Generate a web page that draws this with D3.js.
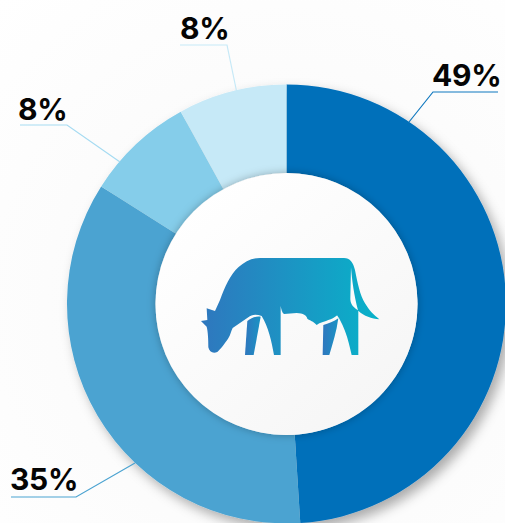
<!DOCTYPE html>
<html><head><meta charset="utf-8">
<script src="https://cdn.jsdelivr.net/npm/d3@7"></script>
<style>html,body{margin:0;padding:0;background:#fff}svg{display:block}</style>
</head><body><svg id="c" width="505" height="523"></svg>
<script>
const labels = ["49%", "35%", "8%", "8%"];
const values = [49, 35, 8, 8];
const colors = ["#0070ba", "#4ba3d1", "#85cdea", "#c6e9f7"];
const lineColors = ["#0f78bf", "#4ba3d1", "#a5dbf2", "#c6e9f7"];

const W = 505, H = 523, cx = 286.5, cy = 304, R = 219.5, r = 131;
const svg = d3.select("#c");
const defs = svg.append("defs");
const bg = defs.append("radialGradient").attr("id","bg").attr("gradientUnits","userSpaceOnUse")
  .attr("cx",cx).attr("cy",cy).attr("r",420);
bg.append("stop").attr("offset","0").attr("stop-color","#f8f8f8");
bg.append("stop").attr("offset","1").attr("stop-color","#ffffff");
const sh = defs.append("filter").attr("id","ringShadow").attr("x","-20%").attr("y","-20%").attr("width","140%").attr("height","140%");
sh.append("feDropShadow").attr("dx",5).attr("dy",6).attr("stdDeviation",6).attr("flood-color","#000").attr("flood-opacity",0.32);
const sh2 = defs.append("filter").attr("id","holeShadow").attr("x","-20%").attr("y","-20%").attr("width","140%").attr("height","140%");
sh2.append("feDropShadow").attr("dx",0).attr("dy",0).attr("stdDeviation",4).attr("flood-color","#000").attr("flood-opacity",0.28);
const hg = defs.append("linearGradient").attr("id","hole").attr("x1","0.15").attr("y1","0.1").attr("x2","0.85").attr("y2","0.9");
hg.append("stop").attr("offset","0").attr("stop-color","#ffffff");
hg.append("stop").attr("offset","1").attr("stop-color","#f6f6f6");
const g1 = defs.append("linearGradient").attr("id","cow");
g1.append("stop").attr("offset","0").attr("stop-color","#2f77be");
g1.append("stop").attr("offset","1").attr("stop-color","#08b2c9");
const g2 = defs.append("linearGradient").attr("id","leg");
g2.append("stop").attr("offset","0").attr("stop-color","#2f77be");
g2.append("stop").attr("offset","1").attr("stop-color","#1a93c4");

svg.append("rect").attr("width",W).attr("height",H).attr("fill","url(#bg)");

const pie = d3.pie().sort(null).value(d => d)(values);
const arc = d3.arc().innerRadius(r).outerRadius(R);
const chart = svg.append("g").attr("transform",`translate(${cx},${cy})`);
chart.append("g").attr("filter","url(#ringShadow)").selectAll("path").data(pie).join("path")
  .attr("d",arc).attr("fill",(d,i)=>colors[i]);
chart.append("circle").attr("r",r).attr("fill","url(#hole)").attr("filter","url(#holeShadow)");

const leaderPaths = [
  [[409,122],[433,92],[498,92]],
  [[135,463],[76,497],[11,497]],
  [[120,162],[67,125],[20,125]],
  [[236.5,91],[227,45],[180,45]]
];
const labelPos = [[432,86],[10,490],[18,120],[180,39]];
const line = d3.line();
svg.append("g").selectAll("path").data(leaderPaths).join("path")
  .attr("d",line).attr("fill","none").attr("stroke",(d,i)=>lineColors[i]).attr("stroke-width",1.2);
svg.append("g").selectAll("text").data(labels).join("text")
  .text(d=>d).attr("x",(d,i)=>labelPos[i][0]).attr("y",(d,i)=>labelPos[i][1])
  .attr("font-family","Inter").attr("font-weight",700).attr("font-size",30).attr("letter-spacing",-0.3).attr("fill","#050505");

const cow = svg.append("g").attr("transform","translate(190,240) scale(0.3333)");
cow.append("path").attr("fill","url(#cow)").attr("d",
 "M50 205 L75 213 L90 180 C105 140 120 105 145 82 C165 64 185 54 210 54 L462 54 C480 54 490 68 495 90 C503 130 510 165 525 190 C538 212 552 225 568 238 C545 236 522 228 505 212 L505 345 L485 345 C475 300 462 245 425 205 C432 214 438 220 442 226 C425 240 405 243 388 250 L380 255 C370 243 360 242 352 236 C350 226 340 220 320 219 L282 222 C276 218 274 208 272 198 L272 345 L252 345 C245 305 235 260 215 228 C200 222 185 222 175 232 L128 264 C122 275 122 285 115 295 C105 310 92 328 82 336 C68 342 58 335 55 322 C55 300 54 275 50 260 L33 243 L52 240 Z");
cow.append("path").attr("fill","#fbfbfb").attr("d","M483 82 C486 120 492 165 504 211 C492 203 482 195 481 178 Z");
cow.append("path").attr("fill","url(#leg)").attr("d","M172 243 C185 232 200 228 212 230 L191 345 L165 345 Z");
cow.append("path").attr("fill","url(#leg)").attr("d","M400 255 C415 250 432 245 445 235 C440 275 428 310 418 345 L398 345 Z");
</script></body></html>
